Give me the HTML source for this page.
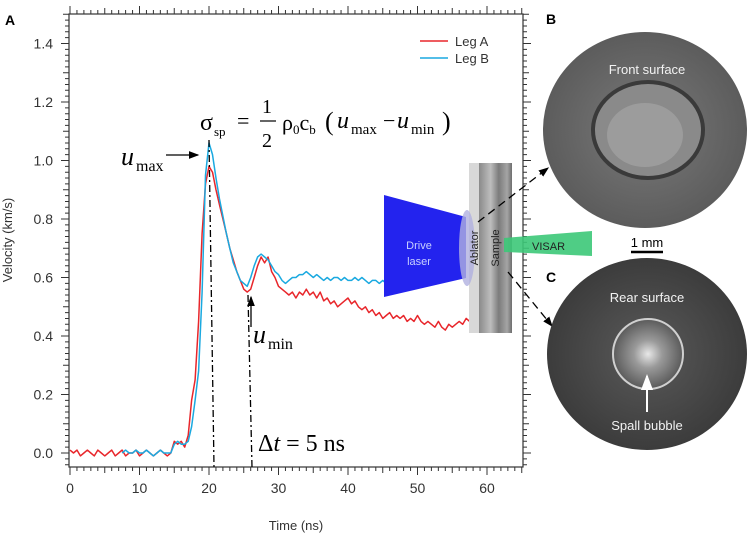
<!DOCTYPE html>
<html><head><meta charset="utf-8"><style>
html,body{margin:0;padding:0;background:#fff;}
svg{display:block;font-family:"Liberation Sans",sans-serif;}
</style></head><body>
<svg id="chart" width="750" height="538" viewBox="0 0 750 538" xmlns="http://www.w3.org/2000/svg">
<defs>
<linearGradient id="sampG" x1="0" x2="1" y1="0" y2="0">
<stop offset="0" stop-color="#8a8a8a"/><stop offset="0.35" stop-color="#bdbdbd"/><stop offset="0.6" stop-color="#7c7c7c"/><stop offset="0.85" stop-color="#a5a5a5"/><stop offset="1" stop-color="#6e6e6e"/></linearGradient>
<radialGradient id="discB" cx="0.5" cy="0.5" r="0.5"><stop offset="0" stop-color="#7a7a7a"/><stop offset="1" stop-color="#5c5c5c"/></radialGradient>
<radialGradient id="discC" cx="0.5" cy="0.5" r="0.5"><stop offset="0" stop-color="#5a5a5a"/><stop offset="1" stop-color="#3c3c3c"/></radialGradient>
<radialGradient id="craterC" cx="0.5" cy="0.5" r="0.5"><stop offset="0" stop-color="#e8e8e8"/><stop offset="0.4" stop-color="#9a9a9a"/><stop offset="1" stop-color="#5a5a5a"/></radialGradient>
<marker id="ah" markerWidth="8" markerHeight="8" refX="7" refY="4" orient="auto"><path d="M0,1 L8,4 L0,7 Z" fill="#000"/></marker>
<marker id="ahw" markerWidth="8" markerHeight="8" refX="7" refY="4" orient="auto"><path d="M0,1 L8,4 L0,7 Z" fill="#fff"/></marker>
</defs>
<g id="axes"></g>
<g id="series"></g>
<g id="overlay">
 <text x="5" y="25" font-size="14" font-weight="bold">A</text>
 <line x1="420" y1="41" x2="448" y2="41" stroke="#e8262b" stroke-width="1.5"/>
 <text x="455" y="46" font-size="13" fill="#333">Leg A</text>
 <line x1="420" y1="58" x2="448" y2="58" stroke="#1aa9e0" stroke-width="1.5"/>
 <text x="455" y="63" font-size="13" fill="#333">Leg B</text>
 <g font-family="'Liberation Serif',serif">
  <text x="200" y="130" font-size="24">σ</text><text x="214" y="136" font-size="13">sp</text>
  <text x="237" y="128" font-size="22">=</text>
  <text x="262" y="113" font-size="20">1</text><line x1="260" y1="121" x2="276" y2="121" stroke="#000" stroke-width="1.2"/><text x="262" y="147" font-size="20">2</text>
  <text x="282" y="130" font-size="22">ρ<tspan font-size="13" dy="4">0</tspan><tspan dy="-4">c</tspan><tspan font-size="13" dy="4">b</tspan></text>
  <text x="325" y="130" font-size="26">(</text>
  <text x="337" y="128" font-size="24" font-style="italic">u</text><text x="351" y="134" font-size="15">max</text>
  <text x="383" y="128" font-size="22">−</text>
  <text x="397" y="128" font-size="24" font-style="italic">u</text><text x="411" y="134" font-size="15">min</text>
  <text x="442" y="130" font-size="26">)</text>
 </g>
 <g font-family="'Liberation Serif',serif"><text x="121" y="165" font-size="26" font-style="italic">u</text><text x="136" y="171" font-size="16">max</text></g>
 <line x1="166" y1="155" x2="198" y2="155" stroke="#000" stroke-width="1.3" marker-end="url(#ah)"/>
 <g font-family="'Liberation Serif',serif"><text x="253" y="343" font-size="26" font-style="italic">u</text><text x="268" y="349" font-size="16">min</text></g>
 <line x1="251" y1="327" x2="251" y2="297" stroke="#000" stroke-width="1.3" marker-end="url(#ah)"/>
 <line x1="209" y1="140" x2="214" y2="467" stroke="#000" stroke-width="1.3" stroke-dasharray="7,3,2,3"/>
 <line x1="248" y1="295" x2="252" y2="467" stroke="#000" stroke-width="1.3" stroke-dasharray="7,3,2,3"/>
 <text x="258" y="451" font-family="'Liberation Serif',serif" font-size="24">Δ<tspan font-style="italic">t</tspan> = 5 ns</text>
 <rect x="469" y="163" width="10" height="170" fill="#d8d8d8"/>
 <rect x="479" y="163" width="33" height="170" fill="url(#sampG)"/>
 <polygon points="384,195 466,217 466,278 384,297" fill="#2323ee"/>
 <ellipse cx="467" cy="248" rx="8" ry="38" fill="#b0b0e0" opacity="0.8"/>
 <text x="419" y="249" font-size="11" fill="#c8d0ff" text-anchor="middle">Drive</text>
 <text x="419" y="265" font-size="11" fill="#c8d0ff" text-anchor="middle">laser</text>
 <text transform="translate(478,248) rotate(-90)" font-size="11" fill="#222" text-anchor="middle">Ablator</text>
 <text transform="translate(499,248) rotate(-90)" font-size="11" fill="#222" text-anchor="middle">Sample</text>
 <polygon points="504,238 592,231 592,256 504,252" fill="#3cc878" opacity="0.9"/>
 <text x="532" y="250" font-size="11" fill="#222">VISAR</text>
 <line x1="478" y1="222" x2="548" y2="168" stroke="#000" stroke-width="1.3" stroke-dasharray="8,5" marker-end="url(#ah)"/>
 <line x1="508" y1="272" x2="552" y2="326" stroke="#000" stroke-width="1.3" stroke-dasharray="8,5" marker-end="url(#ah)"/>
 <text x="546" y="24" font-size="14" font-weight="bold">B</text>
 <ellipse cx="645" cy="130" rx="102" ry="98" fill="url(#discB)"/>
 <ellipse cx="648" cy="130" rx="55" ry="48" fill="#8a8a8a" stroke="#3a3a3a" stroke-width="4"/>
 <ellipse cx="645" cy="135" rx="38" ry="32" fill="#9c9c9c"/>
 <text x="647" y="74" font-size="13" fill="#f2f2f2" text-anchor="middle">Front surface</text>
 <text x="647" y="247" font-size="13" fill="#000" text-anchor="middle">1 mm</text>
 <line x1="631" y1="252" x2="663" y2="252" stroke="#000" stroke-width="2.5"/>
 <text x="546" y="282" font-size="14" font-weight="bold">C</text>
 <ellipse cx="647" cy="354" rx="100" ry="96" fill="url(#discC)"/>
 <circle cx="648" cy="354" r="35" fill="url(#craterC)" stroke="#d0d0d0" stroke-width="2"/>
 <text x="647" y="302" font-size="13" fill="#f2f2f2" text-anchor="middle">Rear surface</text>
 <line x1="647" y1="412" x2="647" y2="376" stroke="#fff" stroke-width="2" marker-end="url(#ahw)"/>
 <text x="647" y="430" font-size="13" fill="#f2f2f2" text-anchor="middle">Spall bubble</text>
</g>
</svg>
<script>
const xTickLabels = [0,10,20,30,40,50,60];
const yTickLabels = ["0.0","0.2","0.4","0.6","0.8","1.0","1.2","1.4"];
const legAStart = 0;
const legAValues = [0.01,0.0,0.01,-0.01,0.0,0.01,0.0,-0.01,0.01,0.0,-0.01,0.0,0.01,-0.01,0.0,0.01,-0.01,0.0,0.0,0.01,-0.01,0.0,0.01,0.0,-0.01,0.0,0.01,0.0,-0.01,0.0,
0.04,0.03,0.04,0.02,0.06,0.18,0.25,0.45,0.75,0.92,0.98,0.96,0.9,0.85,0.8,0.75,0.7,0.66,0.62,0.59,0.56,0.55,0.56,0.6,0.64,0.67,0.65,0.67,0.62,0.6,
0.57,0.56,0.55,0.54,0.55,0.53,0.55,0.54,0.56,0.54,0.55,0.53,0.55,0.52,0.53,0.51,0.52,0.5,0.51,0.52,0.53,0.51,0.52,0.5,0.49,0.5,0.48,0.49,0.47,0.48,
0.46,0.47,0.48,0.46,0.47,0.46,0.47,0.45,0.46,0.45,0.47,0.45,0.44,0.45,0.44,0.43,0.45,0.43,0.42,0.44,0.43,0.44,0.45,0.44,0.46,0.45];
const legBStart = 7.5;
const legBValues = [0.0,0.01,0.0,0.0,0.01,0.0,0.0,0.01,0.0,-0.01,0.0,0.01,0.0,0.0,0.0,
0.03,0.04,0.03,0.03,0.04,0.09,0.18,0.28,0.55,0.95,1.06,1.02,0.94,0.87,0.81,0.75,0.7,0.65,0.62,0.59,0.58,0.57,0.6,0.64,0.67,0.68,0.67,0.66,0.64,0.62,
0.61,0.59,0.58,0.59,0.6,0.6,0.61,0.61,0.62,0.61,0.6,0.61,0.6,0.59,0.6,0.59,0.6,0.6,0.59,0.6,0.59,0.59,0.6,0.59,0.6,0.59,
0.58,0.59,0.59,0.58,0.59,0.58,0.59,0.58,0.58,0.59,0.58,0.59,0.58,0.59,0.59];
const step = 0.5;
const NS='http://www.w3.org/2000/svg';
const X0=70, PXN=6.95, Y0=453, PXV=292.5;
function X(t){return X0+t*PXN;}
function Y(v){return Y0-v*PXV;}
const L=69,R=523,T=14,B=467;
const axes=document.getElementById('axes');
function mk(tag,attrs,parent){const e=document.createElementNS(NS,tag);for(const k in attrs)e.setAttribute(k,attrs[k]);parent.appendChild(e);return e;}
const frame=mk('rect',{x:L,y:T,width:R-L,height:B-T,fill:'none',stroke:'#333','stroke-width':1.2},axes);


let d='';
for(let i=0;i<=65;i++){const x=X(i);const len=i%10===0?8:(i%5===0?6:4);d+=`M${x},${B}v${len}M${x},${T}v${-len}`;}
for(let k=-2;k<=75;k++){const v=k*0.02;const y=Y(v);if(y<T-0.5||y>B+0.5)continue;const len=k%10===0?8:(k%5===0?6:4);d+=`M${L},${y}h${-len}M${R},${y}h${len}`;}
const ticks=mk('path',{d:d,stroke:'#333','stroke-width':1,fill:'none'},axes);


xTickLabels.forEach(v=>{const t=mk('text',{x:X(v),y:B+26,'font-size':14,fill:'#333','text-anchor':'middle'},axes);t.textContent=v;

});
yTickLabels.forEach(s=>{const t=mk('text',{x:L-16,y:Y(parseFloat(s))+5,'font-size':14,fill:'#333','text-anchor':'end'},axes);t.textContent=s;

});
const xt=mk('text',{x:296,y:530,'font-size':13,fill:'#333','text-anchor':'middle'},axes);xt.textContent='Time (ns)';


const yt=mk('text',{transform:'translate(12,240) rotate(-90)','font-size':13,fill:'#333','text-anchor':'middle'},axes);yt.textContent='Velocity (km/s)';


const series=document.getElementById('series');
function line(start,vals,color,name){const pts=vals.map((v,i)=>X(start+i*step).toFixed(1)+','+Y(v).toFixed(1)).join(' ');
const p=mk('polyline',{points:pts,fill:'none',stroke:color,'stroke-width':1.5,'stroke-linejoin':'round'},series);

}
line(legAStart,legAValues,'#e8262b','series-leg-a');
line(legBStart,legBValues,'#1aa9e0','series-leg-b');
</script>
</body></html>
